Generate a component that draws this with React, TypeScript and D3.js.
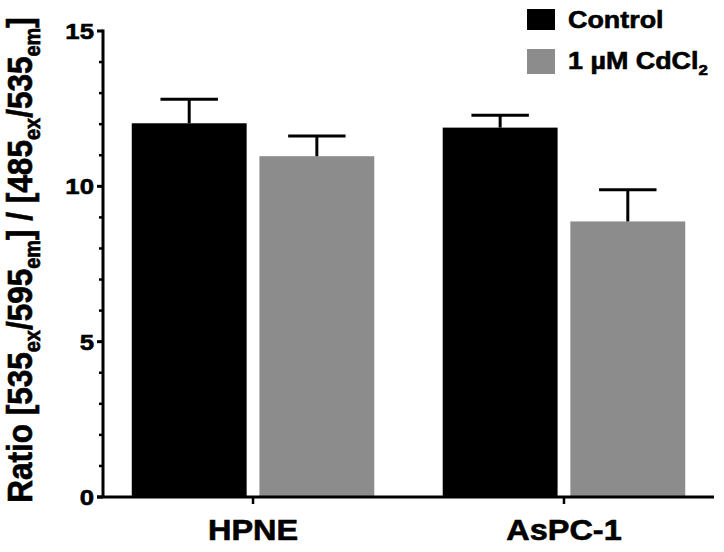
import React from "react";
import * as d3 from "d3";

const categories = ["HPNE", "AsPC-1"];
const seriesNames = ["Control", "1 µM CdCl2"];
const controlValues = [12.03, 11.89];
const controlErrors = [0.77, 0.40];
const cdValues = [10.97, 8.87];
const cdErrors = [0.65, 1.02];
const yTicks = [0, 5, 10, 15];
const yMinorTicks = [1, 2, 3, 4, 6, 7, 8, 9, 11, 12, 13, 14];
const colors = ["#000000", "#8c8c8c"];

const W = 724;
const H = 552;
const FONT = "'Liberation Sans', Arial, Helvetica, sans-serif";
const SX = 1.12;
const TS = 0.6;

export default function App() {
  const axisX = 103;
  const axisRight = 714;
  const y = d3.scaleLinear().domain([0, 15]).range([497, 31]);
  const x0 = d3
    .scaleBand<string>()
    .domain(categories)
    .range([axisX, axisRight])
    .paddingInner(0.22)
    .paddingOuter(0.0925);
  const x1 = d3
    .scaleBand<string>()
    .domain(seriesNames)
    .range([0, x0.bandwidth()])
    .paddingInner(0.1);

  const rows = categories.map((c, i) => [
    { cat: c, s: seriesNames[0], v: controlValues[i], e: controlErrors[i], color: colors[0] },
    { cat: c, s: seriesNames[1], v: cdValues[i], e: cdErrors[i], color: colors[1] },
  ]).flat();

  const titleParts: { t: string; sub?: boolean }[] = [
    { t: "Ratio [535" },
    { t: "ex", sub: true },
    { t: "/595" },
    { t: "em", sub: true },
    { t: "] / [485" },
    { t: "ex", sub: true },
    { t: "/535" },
    { t: "em", sub: true },
    { t: "]" },
  ];

  return (
    <svg
      width={W}
      height={H}
      style={{ position: "absolute", left: 0, top: 0, background: "#fff" }}
      fontFamily={FONT}
      fontWeight="bold"
    >
      <rect x={0} y={0} width={W} height={H} fill="#fff" />
      {/* bars */}
      {rows.map((r, i) => {
        const bx = (x0(r.cat) ?? 0) + (x1(r.s) ?? 0);
        const bw = x1.bandwidth();
        const cx = bx + bw / 2;
        const top = y(r.v);
        const errTop = y(r.v + r.e);
        return (
          <g key={i}>
            <rect x={bx} y={top} width={bw} height={y(0) - top} fill={r.color} />
            <line x1={cx} x2={cx} y1={top} y2={errTop} stroke="#000" strokeWidth={3} />
            <line x1={cx - bw / 4} x2={cx + bw / 4} y1={errTop} y2={errTop} stroke="#000" strokeWidth={3} />
          </g>
        );
      })}
      {/* y axis */}
      <line x1={axisX} x2={axisX} y1={y(15) - 1.5} y2={y(0)} stroke="#000" strokeWidth={3} />
      {yTicks.map((t) => (
        <g key={t}>
          <line x1={axisX - 6} x2={axisX} y1={y(t)} y2={y(t)} stroke="#000" strokeWidth={3} />
          <text
            transform={`translate(${axisX - 9},${y(t)}) scale(${SX},1)`}
            textAnchor="end"
            dominantBaseline="central"
            fontSize={23}
            fill="#000"
            stroke="#000"
            strokeWidth={TS}
          >
            {t}
          </text>
        </g>
      ))}
      {yMinorTicks.map((t) => (
        <line key={t} x1={axisX - 4} x2={axisX} y1={y(t)} y2={y(t)} stroke="#000" strokeWidth={2.5} />
      ))}
      {/* x axis */}
      <line x1={axisX - 6} x2={axisRight} y1={y(0)} y2={y(0)} stroke="#000" strokeWidth={3} />
      {categories.map((c) => {
        const cx = (x0(c) ?? 0) + x0.bandwidth() / 2;
        return (
          <g key={c}>
            <line x1={cx} x2={cx} y1={y(0)} y2={y(0) + 7} stroke="#000" strokeWidth={2.5} />
            <text
              transform={`translate(${cx},540) scale(${SX},1)`}
              textAnchor="middle"
              fontSize={29}
              fill="#000"
              stroke="#000"
              strokeWidth={TS}
            >
              {c}
            </text>
          </g>
        );
      })}
      {/* y title */}
      <text
        transform={`translate(32,260) scale(${SX},1) rotate(-90)`}
        textAnchor="middle"
        fontSize={31.5}
        fill="#000"
        stroke="#000"
        strokeWidth={TS}
      >
        {titleParts.map((p, i) => {
          const prevSub = i > 0 && titleParts[i - 1].sub;
          const dy = p.sub ? 7 : prevSub ? -7 : 0;
          return (
            <tspan key={i} dy={dy} fontSize={p.sub ? 20 : 31.5}>
              {p.t}
            </tspan>
          );
        })}
      </text>
      {/* legend */}
      <rect x={527} y={9} width={28} height={21} fill={colors[0]} />
      <rect x={527} y={49} width={28} height={25} fill={colors[1]} />
      <text transform={`translate(568,28.3) scale(${SX},1)`} fontSize={24} fill="#000" stroke="#000" strokeWidth={TS}>
        {seriesNames[0]}
      </text>
      <text transform={`translate(568,69) scale(${SX},1)`} fontSize={24} fill="#000" stroke="#000" strokeWidth={TS}>
        <tspan>1 µM CdCl</tspan>
        <tspan dy={6} fontSize={15}>2</tspan>
      </text>
    </svg>
  );
}
